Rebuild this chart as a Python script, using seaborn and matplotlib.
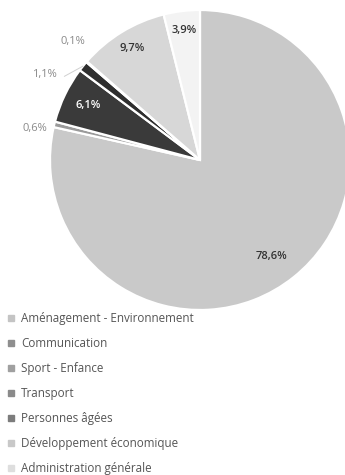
import numpy as np
import matplotlib
matplotlib.use("Agg")
import matplotlib.pyplot as plt
import seaborn as sns
from matplotlib.lines import Line2D

sns.set_theme(style="white")
plt.rcParams["font.family"] = ["Open Sans", "DejaVu Sans"]

# Budget shares by sector (%)
categories = [
    "Aménagement - Environnement",
    "Communication",
    "Sport - Enfance",
    "Transport",
    "Personnes âgées",
    "Développement économique",
    "Administration générale",
]
shares = [78.6, 0.6, 6.1, 1.1, 0.1, 9.7, 3.9]

wedge_colors = ["#c9c9c9", "#9a9a9a", "#3a3a3a", "#2e2e2e", "#b5b5b5", "#d7d7d7", "#f3f3f3"]
marker_colors = ["#c4c4c4", "#8e8e8e", "#a0a0a0", "#8a8a8a", "#7c7c7c", "#c8c8c8", "#dedede"]
label_colors = ["#333333", "#8a8a8a", "#ffffff", "#8a8a8a", "#8a8a8a", "#333333", "#333333"]
# label placement per slice: radius (in pie radii) and angular nudge (deg)
label_radius = [0.80, 1.12, 0.83, 1.18, 1.16, 0.87, 0.87]
label_nudge = [-2, 3, 0, 10, -2, 0, 0]
outside = [False, True, False, True, True, False, False]
leader = [False, False, False, True, False, False, False]

fig = plt.figure(figsize=(3.45, 4.75), dpi=100)
ax = fig.add_axes([50 / 345, 165 / 475, 300 / 345, 300 / 475])

wedges, _ = ax.pie(
    shares,
    colors=wedge_colors,
    startangle=90,
    counterclock=False,
    radius=1.0,
    wedgeprops=dict(edgecolor="white", linewidth=1.6),
)
ax.set_xlim(-1, 1)
ax.set_ylim(-1, 1)
ax.set_aspect("equal")
ax.axis("off")

for i, w in enumerate(wedges):
    mid = np.deg2rad((w.theta1 + w.theta2) / 2)
    ang = mid + np.deg2rad(label_nudge[i])
    r = label_radius[i]
    x, y = r * np.cos(ang), r * np.sin(ang)
    txt = f"{shares[i]:.1f}%".replace(".", ",")
    weight = "normal" if outside[i] else "semibold"
    ax.text(x, y, txt, ha="center", va="center", fontsize=8,
            color=label_colors[i], fontweight=weight, clip_on=False)
    if leader[i]:
        ex, ey = 1.0 * np.cos(mid), 1.0 * np.sin(mid)
        sx = x + 0.13
        ax.plot([sx, ex], [y - 0.01, ey], color="#d0d0d0", lw=0.7, clip_on=False)

handles = [Line2D([0], [0], marker="s", linestyle="none", markersize=4,
                  markerfacecolor=c, markeredgecolor=c) for c in marker_colors]
leg = fig.legend(handles, categories, loc="upper left",
                 bbox_to_anchor=(2 / 345, 1 - 307 / 475), frameon=False,
                 fontsize=8.4, handlelength=0.8, handletextpad=0.45,
                 labelspacing=1.03, borderaxespad=0)
for t in leg.get_texts():
    t.set_color("#555555")

fig.savefig("out.png", dpi=100, facecolor="white")
